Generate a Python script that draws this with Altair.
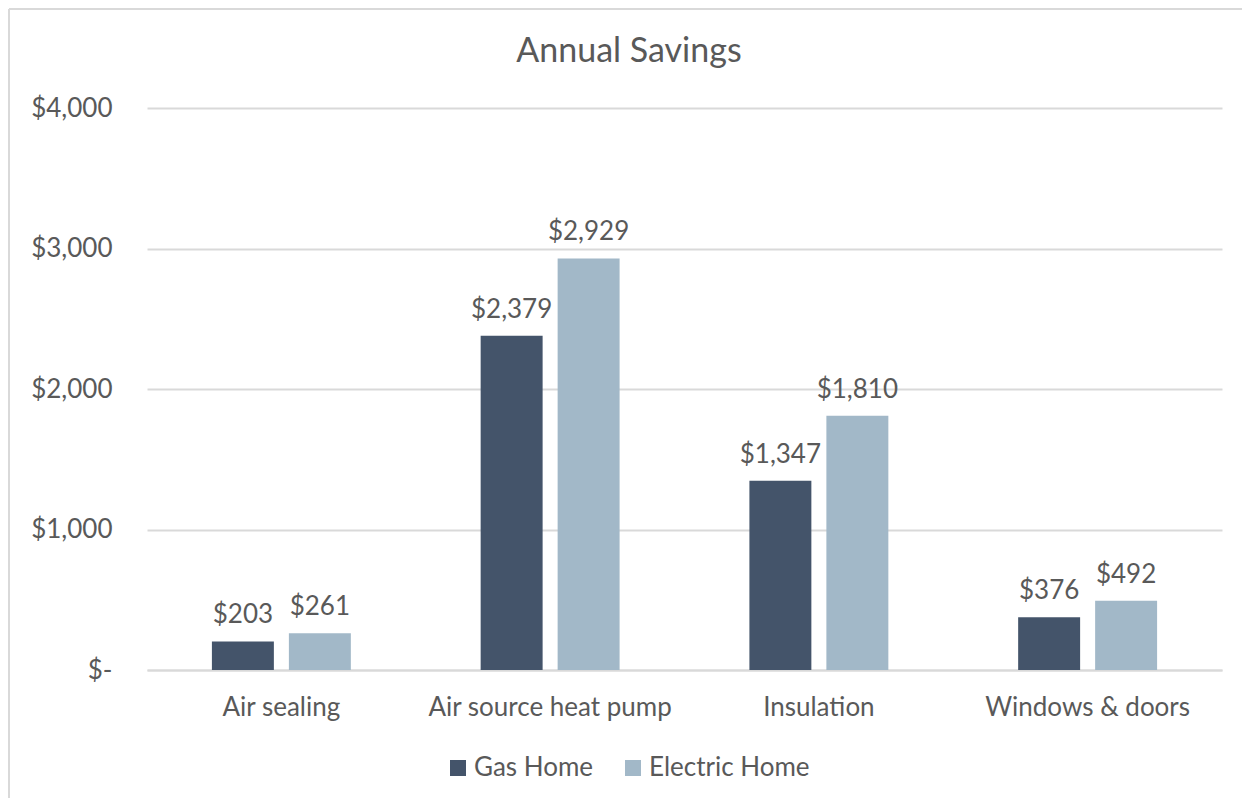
import altair as alt
import pandas as pd

categories = ["Air sealing", "Air source heat pump", "Insulation", "Windows & doors"]
series = ["Gas Home", "Electric Home"]
gas_values = [203, 2379, 1347, 376]
electric_values = [261, 2929, 1810, 492]
colors = ["#44546A", "#A2B8C8"]

rows = []
for c, g, e in zip(categories, gas_values, electric_values):
    rows.append({"category": c, "series": series[0], "value": g})
    rows.append({"category": c, "series": series[1], "value": e})
df = pd.DataFrame(rows)

FONT = "Lato"
TXT = "#595959"
GRID = "#D9D9D9"
FS = 26

x = alt.X("category:N", sort=categories, title=None,
          scale=alt.Scale(paddingInner=0.483, paddingOuter=0.2415),
          axis=alt.Axis(labelAngle=0, labelFontSize=FS, labelColor=TXT, labelFont=FONT,
                        labelPadding=24, labelLimit=0, ticks=False, domainColor=GRID, domainWidth=2))
xo = alt.XOffset("series:N", sort=series, scale=alt.Scale(paddingInner=0.195))
y = alt.Y("value:Q", title=None,
          scale=alt.Scale(domain=[0, 4000]),
          axis=alt.Axis(values=[0, 1000, 2000, 3000, 4000], labelFontSize=FS, labelColor=TXT,
                        labelFont=FONT, labelPadding=35, ticks=False, domain=False,
                        gridColor=GRID, gridWidth=2,
                        labelExpr="datum.value == 0 ? '$-' : '$' + format(datum.value, ',')"))

bars = alt.Chart(df).mark_bar().encode(
    x=x, xOffset=xo, y=y,
    color=alt.Color("series:N", sort=series, title=None,
                    scale=alt.Scale(domain=series, range=colors),
                    legend=alt.Legend(orient="none", legendX=298, legendY=647,
                                      direction="horizontal", symbolType="square",
                                      symbolSize=256, symbolStrokeWidth=0, labelFontSize=FS,
                                      labelColor=TXT, labelFont=FONT, labelOffset=3,
                                      labelLimit=0, columnPadding=26)),
)

labels = alt.Chart(df).mark_text(fontSize=FS, font=FONT, color=TXT, baseline="alphabetic", dy=-18).encode(
    x=alt.X("category:N", sort=categories), xOffset=alt.XOffset("series:N", sort=series),
    y="value:Q",
    text=alt.Text("value:Q", format="$,.0f"),
)

border_left = alt.Chart(df).mark_rule(color=GRID, strokeWidth=2).encode(
    x=alt.value(-138), y=alt.value(-99), y2=alt.value(700))
border_top = alt.Chart(df).mark_rule(color=GRID, strokeWidth=2).encode(
    x=alt.value(-138), x2=alt.value(1102), y=alt.value(-99))

chart = alt.layer(border_left, border_top, bars, labels).properties(
    width=1075, height=562,
    title=alt.TitleParams("Annual Savings", fontSize=34, font=FONT, color=TXT, fontWeight="normal",
                          anchor="middle", frame="bounds", offset=-61),
    padding={"left": 139, "top": 100, "right": 20, "bottom": 128},
    autosize=alt.AutoSizeParams(type="none"),
).configure_view(stroke=None)

chart.save("out.html", embed_options={"renderer": "svg", "actions": False})
